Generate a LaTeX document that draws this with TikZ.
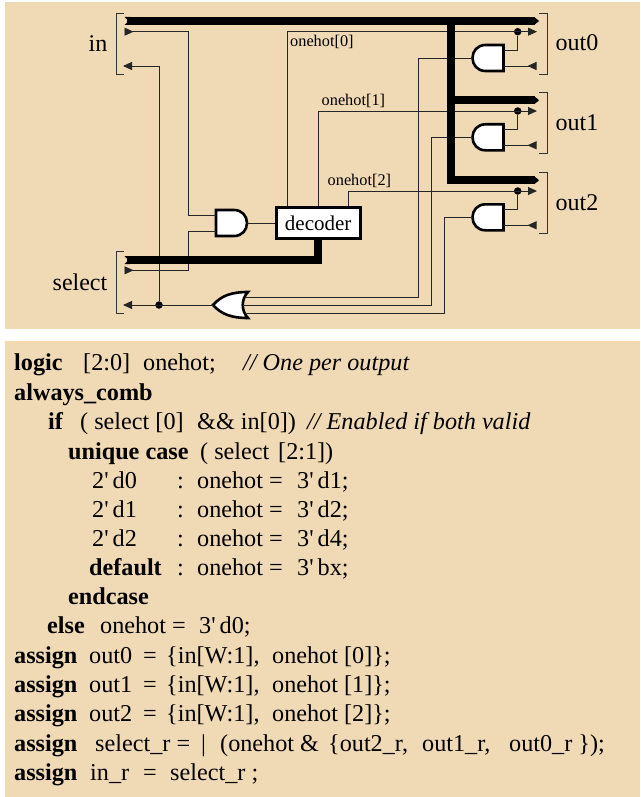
\documentclass[tikz,border=0pt]{standalone}
\usepackage{fontspec}
\setmainfont{Liberation Serif}
\usetikzlibrary{arrows.meta}
\definecolor{panel}{HTML}{F0D9B5}
\definecolor{panelrule}{HTML}{F8D8A8}
\begin{document}
\begin{tikzpicture}[x=1pt,y=-1pt,line join=miter,>={Triangle[length=9pt,width=8pt]}]
	\tikzset{wire/.style={line width=0.9pt,draw=black!85},bus/.style={line width=8pt,line cap=butt},
		back/.style={{Triangle[length=9pt,width=8pt,reversed]}-},backend/.style={-{Triangle[length=9pt,width=8pt,reversed]}},
		gate/.style={line width=2.6pt,fill=white},brack/.style={line width=0.9pt,draw=black!80},
		dotnode/.style={circle,fill=black,inner sep=0pt,minimum size=7.5pt},
		sig/.style={anchor=base west,inner sep=0pt,font=\fontsize{24}{26}\selectfont},
		tag/.style={anchor=base west,inner sep=0pt,font=\fontsize{16.3}{18}\selectfont},
		code/.style={anchor=base west,inner sep=0pt,font=\fontsize{24.2}{26}\selectfont},
		andgate/.pic={\draw[gate] (0,-13)--(18,-13) .. controls (26,-13) and (31,-7) .. (31,0) .. controls (31,7) and (26,13) .. (18,13)--(0,13)--cycle;
			\coordinate (-a) at (0,-8); \coordinate (-b) at (0,8); \coordinate (-o) at (31,0);},
		orgate/.pic={\draw[gate] (0,0) .. controls (8,-9) and (18,-13) .. (35,-13) .. controls (28,-6) and (28,6) .. (35,13) .. controls (18,13) and (8,9) .. (0,0)--cycle;
			\coordinate (-o) at (0,0); \coordinate (-0) at (32,-8); \coordinate (-1) at (29.5,0); \coordinate (-2) at (32,8);}}
	\useasboundingbox (0,0) rectangle (640,797);
	\fill[white] (0,0) rectangle (640,797);
	\fill[panel] (5,2) rectangle (640,329);
	\fill[panel] (5,341) rectangle (640,797);
	\fill[panelrule] (5,341) rectangle (640,342.5);
	% left side
	\draw[brack] (124,13)--(116,13)--(116,74)--(124,74);
	\draw[brack] (124,251.7)--(116,251.7)--(116,313.3)--(124,313.3);
	\node[sig,anchor=base east] (inlbl) at (107.5,51.5) {in};
	\node[sig,anchor=base east] (sellbl) at (107.5,290.7) {select};
	% decoder and its and/or
	\node[draw,line width=2.8pt,fill=white,minimum width=84pt,minimum height=31pt,inner sep=0pt,font=\fontsize{21}{24}\selectfont] (dec) at (318.2,223) {decoder};
	\pic (andin) at (216,223) {andgate};
	\pic (orr) at (213,305) {orgate};
	\coordinate (invalid) at (124.5,31.7); \coordinate (inturn) at (188.3,31.7);
	\coordinate (selvalid) at (124.5,270.3); \coordinate (selturn) at (188.3,270.3);
	\coordinate (inready) at (123,66); \coordinate (inready2) at (159,66);
	\coordinate (selready) at (123,305);
	\node[dotnode] (joindot) at (159,305) {};
	\draw[wire,back] (invalid)--(inturn) |- (andin-a);
	\draw[wire,back] (selvalid)--(selturn) |- (andin-b);
	\draw[wire] (andin-o)--(dec.west);
	\draw[wire,->] (orr-o)--(selready);
	\draw[wire,->] (joindot)--(inready2)--(inready);
	% three outputs
	\foreach \i/\y/\xh/\xv in {0/13/287.7/418,1/92.3/318/431,2/172.3/348.3/444.7}{
		\draw[brack] (539,\y)--(547,\y)--(547,\y+61)--(539,\y+61);
		\node[sig] (out\i) at (555.5,\y+38) {out\i};
		\pic[xscale=-1] (g\i) at (503.5,\y+45) {andgate};
		\coordinate (hot\i) at (\xh,\y+18.7);
		\coordinate (tip\i) at (537,\y+18.7);
		\coordinate (rdy\i) at (536.5,\y+53);
		\coordinate (down\i) at (\xv,\y+45);
		\node[dotnode] (dot\i) at (517.7,\y+18.7) {};
		\draw[wire,->] (dec.north -| hot\i)--(hot\i)--(tip\i);
		\draw[wire] (g\i-a) -| (dot\i);
		\draw[wire,backend] (g\i-b)--(rdy\i);
		\draw[wire] (g\i-o)--(down\i)--(down\i |- orr-\i)--(orr-\i);
		\fill[rounded corners=0.8pt] (534,\y+4)--(539.3,\y+8)--(534,\y+12)--cycle;
	}
	\node[tag] (hotlbl0) at (290,46.5) {onehot[0]};
	\node[tag] (hotlbl1) at (321.5,105.5) {onehot[1]};
	\node[tag] (hotlbl2) at (327.5,185.5) {onehot[2]};
	% buses
	\coordinate (inbus) at (127,21); \coordinate (selbus) at (127,260);
	\draw[bus] (inbus)--(534.5,21);
	\draw[bus] (451,21)--(451,180.3)--(534.5,180.3);
	\draw[bus] (451,100.3)--(534.5,100.3);
	\draw[bus] (dec.south)--(dec.south |- selbus)--(selbus);
	\foreach \y in {21,260}{\fill (124.5,\y-4)--(128.5,\y)--(124.5,\y+4)--(130,\y+4)--(130,\y-4)--cycle;}
	% code panel
	\foreach \x/\y/\t [count=\n] in {14/370/{\textbf{logic}},83/370/{[2:0]},143/370/{onehot;},243/370/{\textit{// One per output}},
		14/400.7/{\textbf{always\_comb}},
		48/429.7/{\textbf{if}},80/429.7/{( select [0]},197/429.7/{\&\& in[0])},307/429.7/{\textit{// Enabled if both valid}},
		68/459/{\textbf{unique case}},200/459/{( select},278/459/{[2:1])},
		89/575/{\textbf{default}},177/575/{:},197/575/{onehot =},297/575/{3\textquotesingle\,bx;},
		68/604/{\textbf{endcase}},
		47/633/{\textbf{else}},100/633/{onehot =},199/633/{3\textquotesingle\,d0;},
		14/751/{\textbf{assign}},95/751/{select\_r =},201/751/{|},220/751/{(onehot \&},328/751/{\{out2\_r,},422/751/{out1\_r,},509/751/{out0\_r \});},
		14/780/{\textbf{assign}},90/780/{in\_r},143/780/{=},170/780/{select\_r ;}}{
		\node[code] (line\n) at (\x,\y) {\t};
	}
	\foreach \k/\y/\v in {0/488/1,1/517/2,2/546.7/4}{
		\node[code] (sel\k) at (92,\y) {2\textquotesingle\,d\k};
		\node[code] (col\k) at (177,\y) {:};
		\node[code] (eq\k) at (197,\y) {onehot =};
		\node[code] (val\k) at (297,\y) {3\textquotesingle\,d\v;};
	}
	\foreach \k/\y in {0/663,1/692,2/721.7}{
		\node[code] (asg\k) at (14,\y) {\textbf{assign}};
		\node[code] (lhs\k) at (89,\y) {out\k};
		\node[code] (eqs\k) at (143,\y) {=};
		\node[code] (cat\k) at (166,\y) {\{in[W:1],};
		\node[code] (rhs\k) at (272,\y) {onehot [\k]\};};
	}
\end{tikzpicture}
\end{document}
